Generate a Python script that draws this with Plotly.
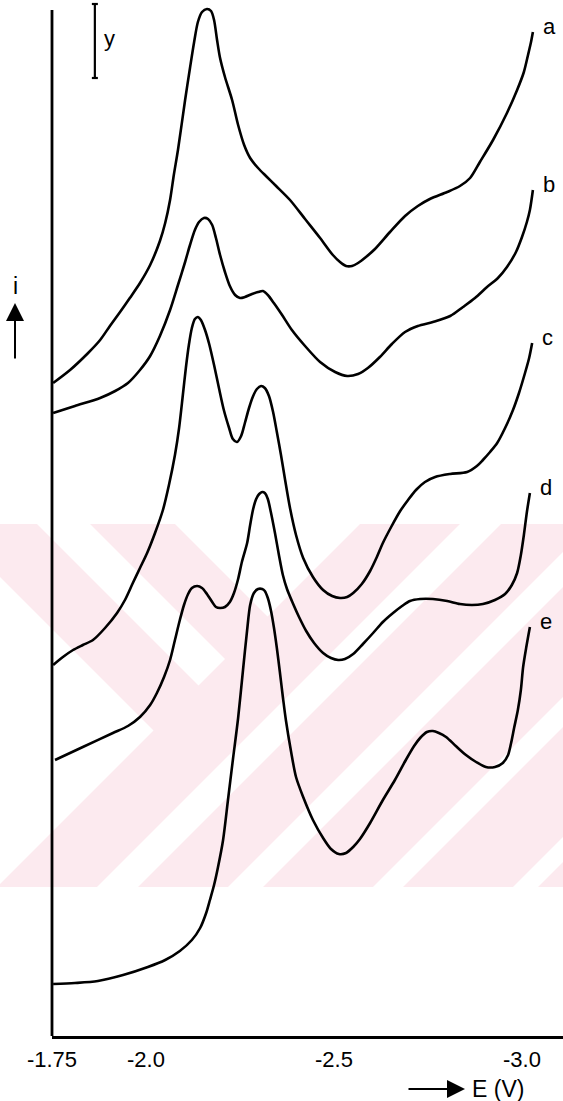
import plotly.graph_objects as go

# Polarograms a-e: potential E (V) and current i (arbitrary units)
E_a = [-1.753, -1.798, -1.846, -1.878, -1.904, -1.931, -1.957, -1.984, -2.011, -2.037, -2.051,
       -2.064, -2.074, -2.085, -2.104, -2.117, -2.128, -2.138, -2.149, -2.162, -2.173, -2.181,
       -2.189, -2.197, -2.210, -2.229, -2.245, -2.261, -2.277, -2.298, -2.319, -2.346, -2.383,
       -2.423, -2.463, -2.497, -2.516, -2.532, -2.548, -2.564, -2.585, -2.609, -2.649, -2.689,
       -2.723, -2.755, -2.801, -2.835, -2.862, -2.888, -2.923, -2.960, -2.987, -3.005, -3.016,
       -3.024, -3.029]
i_a = [65.3, 66.6, 68.3, 69.6, 71.0, 72.4, 73.8, 75.3, 77.1, 79.5, 81.3,
       83.6, 86.1, 88.6, 93.6, 96.8, 99.4, 101.4, 102.4, 102.7, 102.5, 101.6,
       99.6, 97.8, 95.9, 93.6, 91.1, 89.1, 87.8, 86.8, 86.0, 85.0, 83.6,
       81.7, 79.8, 78.1, 77.4, 77.0, 77.0, 77.3, 77.9, 78.7, 80.4, 82.0,
       83.0, 83.7, 84.4, 85.0, 85.8, 87.4, 89.6, 92.3, 94.6, 96.4, 98.1,
       99.4, 100.4]

E_b = [-1.753, -1.811, -1.878, -1.918, -1.952, -1.984, -2.011, -2.037, -2.064, -2.085, -2.104,
       -2.117, -2.130, -2.141, -2.154, -2.165, -2.176, -2.186, -2.197, -2.210, -2.223, -2.237,
       -2.250, -2.263, -2.282, -2.298, -2.311, -2.324, -2.340, -2.362, -2.388, -2.423, -2.463,
       -2.503, -2.535, -2.564, -2.590, -2.622, -2.654, -2.689, -2.723, -2.763, -2.809, -2.843,
       -2.875, -2.907, -2.936, -2.960, -2.984, -3.000, -3.013, -3.021, -3.029]
i_b = [62.3, 63.0, 63.8, 64.5, 65.3, 66.6, 68.0, 70.0, 72.6, 75.1, 77.4,
       79.1, 80.6, 81.4, 81.8, 81.7, 81.1, 79.8, 78.1, 76.4, 75.0, 74.1,
       73.8, 73.9, 74.2, 74.4, 74.5, 74.1, 73.3, 72.1, 70.6, 69.0, 67.4,
       66.4, 66.0, 66.2, 66.8, 67.9, 69.2, 70.4, 71.0, 71.4, 72.0, 72.9,
       73.8, 74.9, 75.8, 76.9, 78.4, 79.9, 81.4, 82.6, 84.6]

E_c = [-1.753, -1.779, -1.806, -1.832, -1.859, -1.891, -1.923, -1.944, -1.965, -1.984, -2.003,
       -2.024, -2.045, -2.061, -2.077, -2.088, -2.098, -2.106, -2.114, -2.122, -2.130, -2.138,
       -2.146, -2.157, -2.168, -2.181, -2.194, -2.207, -2.221, -2.231, -2.242, -2.253, -2.263,
       -2.274, -2.285, -2.295, -2.306, -2.316, -2.327, -2.338, -2.348, -2.359, -2.370, -2.383,
       -2.399, -2.418, -2.444, -2.471, -2.495, -2.516, -2.535, -2.551, -2.574, -2.596, -2.614,
       -2.630, -2.652, -2.676, -2.697, -2.718, -2.742, -2.769, -2.809, -2.854, -2.880, -2.896,
       -2.915, -2.934, -2.955, -2.976, -2.992, -3.008, -3.019, -3.027]
i_c = [37.1, 37.9, 38.6, 39.1, 39.6, 40.8, 42.3, 43.6, 45.3, 46.8, 48.3,
       50.3, 52.6, 55.1, 58.1, 60.8, 64.1, 66.8, 69.1, 70.8, 71.7, 71.9,
       71.6, 70.6, 69.2, 67.1, 64.8, 62.6, 60.8, 59.7, 59.4, 60.0, 61.3,
       62.8, 64.0, 64.7, 65.0, 64.8, 64.0, 62.4, 60.4, 58.1, 55.6, 52.8,
       50.1, 47.8, 45.9, 44.6, 44.0, 43.8, 43.9, 44.3, 45.2, 46.5, 47.9,
       49.3, 50.9, 52.5, 53.6, 54.6, 55.4, 55.9, 56.2, 56.4, 57.0, 57.6,
       58.4, 59.3, 60.8, 62.6, 64.3, 66.3, 67.8, 69.3]

E_d = [-1.758, -1.832, -1.912, -1.952, -1.984, -2.011, -2.029, -2.048, -2.064, -2.077, -2.090,
       -2.101, -2.112, -2.122, -2.136, -2.149, -2.162, -2.176, -2.186, -2.197, -2.210, -2.223,
       -2.234, -2.245, -2.255, -2.269, -2.277, -2.285, -2.293, -2.301, -2.309, -2.316, -2.324,
       -2.332, -2.343, -2.354, -2.364, -2.375, -2.388, -2.407, -2.426, -2.447, -2.471, -2.492,
       -2.511, -2.529, -2.551, -2.577, -2.604, -2.630, -2.657, -2.681, -2.702, -2.729, -2.763,
       -2.801, -2.835, -2.867, -2.896, -2.928, -2.955, -2.973, -2.987, -2.997, -3.005, -3.013,
       -3.021]
i_d = [27.6, 28.9, 30.3, 31.0, 31.9, 33.1, 34.3, 35.9, 37.6, 39.6, 41.6,
       43.1, 44.2, 44.8, 45.0, 44.8, 44.2, 43.4, 42.9, 42.8, 42.9, 43.4,
       44.3, 45.7, 47.4, 49.3, 51.1, 52.7, 53.7, 54.2, 54.4, 54.3, 53.7,
       52.4, 50.3, 48.0, 46.1, 44.7, 43.5, 41.9, 40.5, 39.3, 38.3, 37.8,
       37.6, 37.7, 38.2, 39.2, 40.3, 41.4, 42.3, 43.0, 43.5, 43.7, 43.7,
       43.5, 43.2, 43.1, 43.2, 43.6, 44.2, 45.1, 46.3, 48.1, 50.1, 52.4,
       54.3]

E_e = [-1.753, -1.811, -1.872, -1.939, -2.005, -2.051, -2.090, -2.122, -2.144, -2.160, -2.170,
       -2.181, -2.191, -2.205, -2.218, -2.231, -2.245, -2.258, -2.269, -2.277, -2.287, -2.298,
       -2.309, -2.316, -2.324, -2.332, -2.340, -2.348, -2.356, -2.364, -2.372, -2.386, -2.399,
       -2.418, -2.444, -2.471, -2.492, -2.513, -2.532, -2.551, -2.569, -2.596, -2.630, -2.662,
       -2.691, -2.713, -2.729, -2.747, -2.763, -2.779, -2.798, -2.824, -2.851, -2.878, -2.904,
       -2.928, -2.949, -2.963, -2.971, -2.979, -2.989, -2.997, -3.003, -3.011, -3.021]
i_e = [5.2, 5.3, 5.5, 6.1, 6.9, 7.6, 8.5, 9.6, 10.8, 12.3, 13.6,
       15.1, 16.8, 19.6, 23.6, 27.6, 31.8, 36.6, 40.6, 43.1, 44.3, 44.7,
       44.7, 44.5, 43.8, 42.6, 40.9, 38.8, 36.4, 33.9, 31.6, 28.4, 25.9,
       23.9, 21.6, 19.8, 18.7, 18.2, 18.3, 18.9, 19.7, 21.3, 23.6, 25.6,
       27.6, 29.0, 29.8, 30.4, 30.5, 30.3, 29.9, 29.0, 28.1, 27.4, 26.9,
       26.9, 27.3, 28.1, 29.3, 30.8, 32.6, 34.6, 36.9, 38.8, 40.9]

curve_names = ["a", "b", "c", "d", "e"]
curve_E = [E_a, E_b, E_c, E_d, E_e]
curve_i = [i_a, i_b, i_c, i_d, i_e]

tick_vals = [-1.75, -2.0, -2.5, -3.0]
tick_text = ["-1.75", "-2.0", "-2.5", "-3.0"]

# one "y" current unit for the scale bar
scale_E = -1.864
scale_i = [95.8, 103.2]

W, H = 563, 1101
ML, MB = 52, 65
PW, PH = W - ML, H - MB
FONT = "Liberation Sans, Arial, sans-serif"


def px(x, y):
    """pixel position on the page -> paper coordinates"""
    return (x - ML) / PW, (PH - y) / PH


def poly(points, color):
    pts = [px(x, y) for x, y in points]
    path = "M " + " L ".join(f"{a:.5f},{b:.5f}" for a, b in pts) + " Z"
    return dict(type="path", xref="paper", yref="paper", path=path,
                fillcolor=color, line=dict(width=0), layer="below")


fig = go.Figure()
for name, E, cur in zip(curve_names, curve_E, curve_i):
    fig.add_trace(go.Scatter(x=E, y=cur, mode="lines", name=name, showlegend=False,
                             line=dict(color="black", width=2.6, shape="spline", smoothing=0.8),
                             hoverinfo="skip"))

# background band with diagonal stripes
pink = "rgb(252,234,239)"
shapes = [poly([(0, 524), (W, 524), (W, 887), (0, 887)], pink)]
white_parts = [
    [(175, 524), (360, 524), (267.5, 616.5)],
    [(37, 524), (90, 524), (225, 659), (198.5, 685.5)],
    [(0, 577), (153.5, 730.5), (0, 884)],
    [(460, 524), (501, 524), (138, 887), (97, 887)],
    [(563, 552), (563, 587), (263, 887), (228, 887)],
    [(563, 697), (563, 727), (403, 887), (373, 887)],
    [(563, 837), (563, 862), (538, 887), (513, 887)],
]
shapes += [poly(p, "white") for p in white_parts]

# y axis line
_, ytop = px(0, 10)
shapes.append(dict(type="line", xref="paper", yref="paper", x0=0, x1=0, y0=0, y1=ytop,
                   line=dict(color="black", width=2.8), layer="above"))

# scale bar
cap = 0.008
shapes.append(dict(type="line", xref="x", yref="y", x0=scale_E, x1=scale_E,
                   y0=scale_i[0], y1=scale_i[1], line=dict(color="black", width=2.2)))
for v in scale_i:
    shapes.append(dict(type="line", xref="x", yref="y", x0=scale_E + cap, x1=scale_E - cap,
                       y0=v, y1=v, line=dict(color="black", width=2.2)))

annotations = []
for name, E, cur in zip(curve_names, curve_E, curve_i):
    annotations.append(dict(x=E[-1], y=cur[-1], xref="x", yref="y", text=name, showarrow=False,
                            xanchor="left", yanchor="middle", xshift=8, yshift=6,
                            font=dict(family=FONT, size=22, color="black")))

annotations.append(dict(x=-1.904, y=99.8, xref="x", yref="y", text="y", showarrow=False,
                        xanchor="center", font=dict(family=FONT, size=22, color="black")))

ix, iy = px(15, 286)
annotations.append(dict(x=ix, y=iy, xref="paper", yref="paper", text="i", showarrow=False,
                        xanchor="center", yanchor="middle",
                        font=dict(family=FONT, size=23, color="black")))
hx, hy = px(15, 303)
annotations.append(dict(x=hx, y=hy, xref="paper", yref="paper", text="", showarrow=True,
                        ax=0, ay=57, arrowhead=2, arrowsize=1.8, arrowwidth=2, arrowcolor="black"))

ex, ey = px(498, 1089)
annotations.append(dict(x=ex, y=ey, xref="paper", yref="paper", text="E (V)", showarrow=False,
                        xanchor="center", yanchor="middle",
                        font=dict(family=FONT, size=23, color="black")))
ax_, ay_ = px(465, 1089)
annotations.append(dict(x=ax_, y=ay_, xref="paper", yref="paper", text="", showarrow=True,
                        ax=-58, ay=0, arrowhead=2, arrowsize=1.8, arrowwidth=2, arrowcolor="black"))

fig.update_layout(
    width=W, height=H,
    margin=dict(l=ML, r=0, t=0, b=MB, pad=0),
    paper_bgcolor="white", plot_bgcolor="rgba(0,0,0,0)",
    shapes=shapes, annotations=annotations,
    xaxis=dict(range=[-1.75, -1.75 - PW / 376], tickvals=tick_vals, ticktext=tick_text,
               showline=True, linecolor="black", linewidth=2.8, showgrid=False, zeroline=False,
               ticks="", ticklabelstandoff=2, tickfont=dict(family=FONT, size=22, color="black")),
    yaxis=dict(range=[0, PH / 10], showline=False, showgrid=False, zeroline=False,
               showticklabels=False, ticks=""),
)

fig.write_html("out.html")
